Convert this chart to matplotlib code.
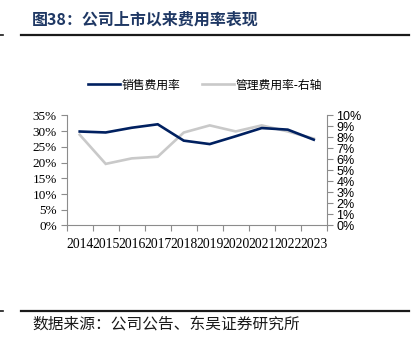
import matplotlib

matplotlib.use("Agg")
import matplotlib.pyplot as plt
from matplotlib.lines import Line2D
from matplotlib.ticker import FuncFormatter, MultipleLocator

plt.rcParams["font.family"] = ["Noto Sans CJK SC", "DejaVu Sans"]

years = ["2014", "2015", "2016", "2017", "2018", "2019", "2020", "2021", "2022", "2023"]
# 销售费用率 (left axis, %)
selling_rate = [29.9, 29.6, 31.1, 32.2, 27.0, 25.9, 28.4, 31.0, 30.5, 27.3]
# 管理费用率 (right axis, %)
admin_rate = [8.25, 5.6, 6.1, 6.25, 8.45, 9.1, 8.55, 9.1, 8.55, 7.9]

NAVY = "#002060"
LIGHT_GRAY = "#C9C9C9"
AXIS_GRAY = "#8C8C8C"
TITLE_COLOR = "#1F3864"

fig = plt.figure(figsize=(4.11, 3.43), dpi=100)
fig.patch.set_facecolor("white")

ax = fig.add_axes([0.1623, 0.3426, 0.6327, 0.3207])
ax2 = ax.twinx()
ax.set_zorder(ax2.get_zorder() + 1)
ax.patch.set_visible(False)

x = list(range(len(years)))
ax.plot(x, selling_rate, color=NAVY, linewidth=1.9, solid_joinstyle="miter")
ax2.plot(x, admin_rate, color=LIGHT_GRAY, linewidth=1.9, solid_joinstyle="miter")

ax.set_xlim(-0.5, len(years) - 0.5)
ax.set_ylim(0, 35)
ax2.set_ylim(0, 10)

ax.yaxis.set_major_locator(MultipleLocator(5))
ax2.yaxis.set_major_locator(MultipleLocator(1))
pct = FuncFormatter(lambda v, _: f"{v:.0f}%")
ax.yaxis.set_major_formatter(pct)
ax2.yaxis.set_major_formatter(pct)

# category labels centred, tick marks on the boundaries
ax.set_xticks(x)
ax.set_xticklabels(years, family="Liberation Serif", fontsize=9.8)
ax.set_xticks([i - 0.5 for i in range(len(years) + 1)], minor=True)
ax.tick_params(axis="x", which="major", length=0, pad=9)
ax.tick_params(axis="x", which="minor", length=4, width=0.8, color=AXIS_GRAY, direction="out")

ax.tick_params(axis="y", length=4, width=0.8, color=AXIS_GRAY, pad=3)
for lbl in ax.get_yticklabels():
    lbl.set_family("Liberation Serif")
    lbl.set_fontsize(9.5)
ax2.tick_params(axis="y", length=4, width=0.8, color=AXIS_GRAY, pad=3)
for lbl in ax2.get_yticklabels():
    lbl.set_family("Liberation Sans")
    lbl.set_fontsize(9)

for a in (ax, ax2):
    a.spines["top"].set_visible(False)
    for side in ("left", "right", "bottom"):
        a.spines[side].set_color(AXIS_GRAY)
        a.spines[side].set_linewidth(0.8)
ax.spines["right"].set_visible(False)
ax2.spines["left"].set_visible(False)
ax2.spines["bottom"].set_visible(False)

handles = [
    Line2D([], [], color=NAVY, linewidth=1.9),
    Line2D([], [], color=LIGHT_GRAY, linewidth=1.9),
]
fig.legend(
    handles,
    ["销售费用率", "管理费用率-右轴"],
    loc="center",
    bbox_to_anchor=(0.499, 0.752),
    ncol=2,
    frameon=False,
    fontsize=8.5,
    handlelength=2.7,
    handletextpad=0.15,
    columnspacing=1.8,
)

# header and footer
fig.text(0.078, 0.942, "图38：公司上市以来费用率表现", fontsize=11.5, fontweight="bold",
         color=TITLE_COLOR, va="center", ha="left")
fig.add_artist(Line2D([0.051, 0.995], [0.898, 0.898], color="#1A1A1A", linewidth=1.6))
fig.add_artist(Line2D([0.0, 0.008], [0.898, 0.898], color="#1A1A1A", linewidth=1.2))
fig.add_artist(Line2D([0.051, 0.995], [0.093, 0.093], color="#1A1A1A", linewidth=1.6))
fig.add_artist(Line2D([0.0, 0.008], [0.093, 0.093], color="#1A1A1A", linewidth=1.2))
fig.text(0.078, 0.055, "数据来源：公司公告、东吴证券研究所", fontsize=11.3,
         color="#1A1A1A", va="center", ha="left")

fig.savefig("out.png", dpi=100, facecolor="white")
plt.close(fig)
